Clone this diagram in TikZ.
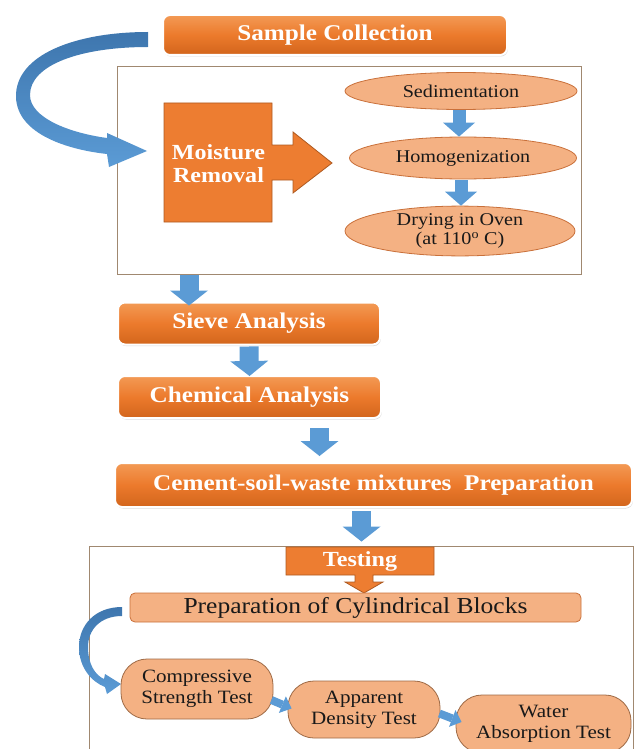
\documentclass[tikz,border=0pt]{standalone}
\usepackage{fontspec}
\setmainfont[FakeStretch=1.12]{Liberation Serif}
\usetikzlibrary{shapes.geometric,arrows.meta,shadows,calc}
\definecolor{orT}{HTML}{F39A55}
\definecolor{orM}{HTML}{EC7A2C}
\definecolor{orB}{HTML}{D2651C}
\definecolor{orF}{HTML}{ED7D31}
\definecolor{orD}{HTML}{AE5A21}
\definecolor{salmon}{HTML}{F4B183}
\definecolor{elB}{HTML}{C9703A}
\definecolor{pillB}{HTML}{9E6A45}
\definecolor{frameC}{HTML}{A08870}
\definecolor{blueA}{HTML}{5B9BD5}
\definecolor{blueD}{HTML}{3E76AE}
\begin{document}
\begin{tikzpicture}[x=1pt,y=-1pt,
  hbox/.style={rounded corners=7pt, draw=white, line width=2pt,
    top color=orT, bottom color=orB, middle color=orM,
    drop shadow={shadow xshift=0.8pt, shadow yshift=-1.5pt, opacity=0.3},
    text=white, font=\bfseries\fontsize{22.5}{25}\selectfont, inner sep=0pt},
  ellip/.style={ellipse, draw=elB, fill=salmon, line width=0.8pt, inner sep=0pt,
    align=center, font=\fontsize{18}{19.5}\selectfont, text=black!90},
  pill/.style={rounded corners=26pt, draw=pillB, fill=salmon, line width=0.8pt,
    inner sep=0pt, align=center, font=\fontsize{18.8}{20.8}\selectfont, text=black!90},
  prepbox/.style={rounded corners=5pt, draw=elB, fill=salmon, line width=0.8pt,
    inner sep=0pt, font=\fontsize{22.8}{25}\selectfont, text=black!90},
  framebox/.style={draw=frameC, line width=0.9pt, inner sep=0pt},
  orshape/.style={fill=orF, draw=orD, line width=0.8pt},
  barrow/.style={draw=blueA, line width=19pt, -{Triangle[length=15pt,width=38pt,line width=0pt]}},
  barrowS/.style={draw=blueA, line width=13pt, -{Triangle[length=14pt,width=32pt,line width=0pt]}},
  sarrow/.style={draw=blueA, line width=8pt, -{Triangle[length=10pt,width=18pt,line width=0pt]}},
  curvearrow/.style={top color=blueD, bottom color=blueA, draw=none}
]
\useasboundingbox (0,0) rectangle (635,749);
\clip (0,0) rectangle (635,749);

% ---------- top part ----------
\node[framebox, minimum width=464pt, minimum height=208pt] (frameA) at (349,170) {};
\node[hbox, minimum width=344pt, minimum height=40pt] (sample) at (335,35) {Sample Collection};

% big curved arrow
\path[curvearrow] (148,32) .. controls (75,32) and (15,55) .. (16,97)
  .. controls (17,135) and (70,150) .. (107,154)
  -- (109,167) -- (147,151) -- (107,133) -- (107,138)
  .. controls (70,133) and (30,118) .. (30,95)
  .. controls (30,65) and (80,47) .. (148,47) -- cycle;

% moisture removal block arrow
\draw[orshape] (164,103) -- (272,103) -- (272,145) -- (293,145) -- (293,132)
  -- (332,163) -- (293,193) -- (293,180) -- (272,180) -- (272,222) -- (164,222) -- cycle;
\node[text=white, font=\bfseries\fontsize{21.5}{23}\selectfont, align=center] (moist) at (218.5,164) {Moisture\\Removal};

\node[ellip, minimum width=232pt, minimum height=37pt] (sed) at (461,91) {Sedimentation};
\node[ellip, minimum width=227pt, minimum height=42pt] (hom) at (463,158) {Homogenization};
\node[ellip, minimum width=230pt, minimum height=48pt] (dry) at (460,231) {Drying in Oven\\(at 110\textsuperscript{o} C)};

\draw[barrowS] ($(sed.south)+(-2,0)$) -- ($(sed.south |- hom.north)+(-2,0)$);
\draw[barrowS] ($(hom.south)+(-2,1)$) -- ($(hom.south |- dry.north)+(-2,0)$);

% ---------- middle ----------
\node[hbox, minimum width=262pt, minimum height=42pt] (sieve) at (249,323.5) {Sieve Analysis};
\node[hbox, minimum width=263pt, minimum height=42pt] (chem) at (249.5,397) {Chemical Analysis};
\node[hbox, minimum width=517pt, minimum height=44pt] (cement) at (373.5,485) {Cement-soil-waste mixtures\ \ Preparation};

\draw[barrow] ($(frameA.south -| sieve.north)+(-60,1)$) -- ($(sieve.north)+(-60,4)$);
\draw[barrow] ($(sieve.south)+(0,1)$) -- ($(chem.north)+(0,1)$);
\draw[barrow] ($(chem.south)+(70,9)$) -- ($(chem.south |- cement.north)+(70,-6)$);

% ---------- testing ----------
\node[framebox, minimum width=544pt, minimum height=230pt] (frameB) at (361,661) {};
\draw[barrow] ($(cement.south)+(-12,3)$) -- ($(cement.south |- frameB.north)+(-12,-4)$);

\draw[orshape] (286,547) -- (434,547) -- (434,575) -- (373,575) -- (373,582) -- (383,582)
  -- (364,593) -- (345,582) -- (355,582) -- (355,575) -- (286,575) -- cycle;
\node[text=white, font=\bfseries\fontsize{21.5}{23}\selectfont] (testing) at (360,561) {Testing};

\node[prepbox, minimum width=451pt, minimum height=29pt] (prep) at (355.5,607.5) {Preparation of Cylindrical Blocks};

% small curved arrow
\path[curvearrow] (122,607) .. controls (95,607) and (79,625) .. (79,647)
  .. controls (79,668) and (92,682) .. (105,687)
  -- (107,694) -- (121,684) -- (105,674) -- (104,679)
  .. controls (95,675) and (88,664) .. (88,647)
  .. controls (88,630) and (100,616) .. (122,616) -- cycle;

\node[pill, minimum width=152pt, minimum height=60pt] (comp) at (197,689) {Compressive\\Strength Test};
\node[pill, minimum width=152pt, minimum height=57pt] (app) at (364,709.5) {Apparent\\Density Test};
\node[pill, minimum width=175pt, minimum height=58pt] (water) at (543.5,724) {Water\\Absorption Test};

\draw[sarrow] ($(comp.east)+(-2,11)$) -- ($(app.west)+(4,-1)$);
\draw[sarrow] ($(app.east)+(-1,4)$) -- ($(water.west)+(6,-2)$);
\end{tikzpicture}
\end{document}
